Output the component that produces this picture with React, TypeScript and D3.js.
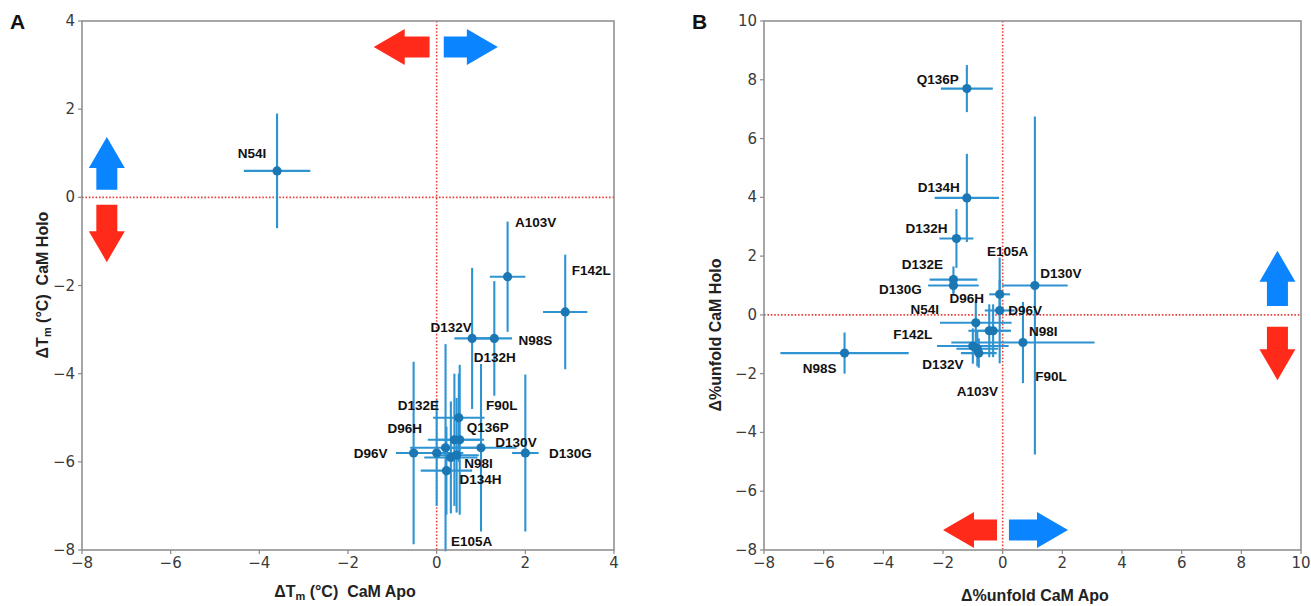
import React from 'react';
import * as d3 from 'd3';

// ---------- data ----------
const namesA = ['N54I', 'A103V', 'F142L', 'D132V', 'N98S', 'D132H', 'D132E', 'F90L', 'D96H', 'Q136P', 'D96V', 'D130V', 'D130G', 'N98I', 'D134H', 'E105A'];
const apoA = [-3.6, 1.6, 2.9, 0.8, 1.3, 0.32, 0.4, 0.5, 0.0, 0.52, -0.52, 1.0, 2.0, 0.45, 0.22, 0.2];
const holoA = [0.6, -1.8, -2.6, -3.2, -3.2, -5.9, -5.5, -5.0, -5.8, -5.5, -5.8, -5.68, -5.8, -5.85, -6.2, -5.68];
const apoErrA = [0.75, 0.4, 0.5, 0.4, 0.4, 0.6, 0.6, 0.58, 0.6, 0.55, 0.4, 0.8, 0.3, 0.5, 0.58, 0.8];
const holoErrA = [1.3, 1.25, 1.3, 1.6, 1.3, 1.27, 1.5, 1.0, 1.2, 1.7, 2.07, 1.9, 1.78, 1.3, 1.0, 2.35];

const namesB = ['Q136P', 'D134H', 'D132H', 'D132E', 'D130G', 'E105A', 'D130V', 'D96H', 'N54I', 'D96V', 'N98I', 'F142L', 'A103V', 'D132V', 'F90L', 'N98S'];
const apoB = [-1.2, -1.2, -1.55, -1.65, -1.65, -0.1, 1.08, -0.1, -0.9, -0.32, -0.45, -1.0, -0.85, -0.8, 0.68, -5.3];
const holoB = [7.7, 3.98, 2.6, 1.2, 1.0, 0.15, 1.0, 0.7, -0.27, -0.54, -0.54, -1.06, -1.15, -1.3, -0.94, -1.3];
const apoErrB = [0.87, 1.08, 0.57, 0.8, 0.85, 0.5, 1.1, 0.35, 1.2, 0.6, 0.7, 1.2, 0.7, 0.6, 2.4, 2.15];
const holoErrB = [0.8, 1.5, 1.0, 0.45, 0.35, 1.8, 5.75, 0.5, 0.77, 0.9, 0.9, 0.6, 0.6, 0.5, 1.38, 0.7];

const ticksA = [-8, -6, -4, -2, 0, 2, 4];
const ticksBx = [-8, -6, -4, -2, 0, 2, 4, 6, 8, 10];
const ticksBy = [-8, -6, -4, -2, 0, 2, 4, 6, 8, 10];

// ---------- layout (pixel label offsets, arrows in data coords) ----------
const labelOffA: Record<string, [number, number]> = {
  N54I: [-25, -17], A103V: [28, -54], F142L: [26, -41], D132V: [-21, -11], N98S: [41, 2],
  D132H: [44, -100], D132E: [-36, -34], F90L: [43, -12], D96H: [-32, -25], Q136P: [28, -12],
  D96V: [-43, 0], D130V: [35, -5], D130G: [45, 0], N98I: [22, 8], D134H: [34, 9], E105A: [26, 94],
};
const labelOffB: Record<string, [number, number]> = {
  Q136P: [-29, -9], D134H: [-28, -10], D132H: [-30, -10], D132E: [-31, -15], D130G: [-53, 4],
  E105A: [8, -59], D130V: [26, -12], D96H: [-33, 4], N54I: [-51, -13], D96V: [32, -20],
  N98I: [54, 1], F142L: [-60, -12], A103V: [0, 43], D132V: [-36, 11], F90L: [28, 34], N98S: [-25, 15],
};

type Arrow = { from: [number, number]; to: [number, number]; color: string };
const BLUE = '#0a84ff';
const RED = '#ff2a1a';
const arrowsA: Arrow[] = [
  { from: [-0.16, 3.41], to: [-1.42, 3.41], color: RED },
  { from: [0.16, 3.41], to: [1.38, 3.41], color: BLUE },
  { from: [-7.44, 0.17], to: [-7.44, 1.37], color: BLUE },
  { from: [-7.44, -0.17], to: [-7.44, -1.47], color: RED },
];
const arrowsB: Arrow[] = [
  { from: [9.21, 0.3], to: [9.21, 2.18], color: BLUE },
  { from: [9.21, -0.4], to: [9.21, -2.22], color: RED },
  { from: [-0.19, -7.32], to: [-2.0, -7.32], color: RED },
  { from: [0.21, -7.32], to: [2.19, -7.32], color: BLUE },
];

const LINE = '#2e93d1';
const DOT = '#1b77b3';
const AXIS = '#8a8a8a';
const TICKFONT = 'DejaVu Sans, sans-serif';
const BOLDFONT = 'Liberation Sans, Arial, sans-serif';

function arrowPath(x1: number, y1: number, x2: number, y2: number) {
  const L = Math.hypot(x2 - x1, y2 - y1);
  const bw = 21, hw = 36, hl = 31;
  const pts: [number, number][] = [
    [0, -bw / 2], [L - hl, -bw / 2], [L - hl, -hw / 2], [L, 0], [L - hl, hw / 2], [L - hl, bw / 2], [0, bw / 2],
  ];
  const a = Math.atan2(y2 - y1, x2 - x1);
  const c = Math.cos(a), s = Math.sin(a);
  return 'M' + pts.map(([u, v]) => `${x1 + u * c - v * s},${y1 + u * s + v * c}`).join('L') + 'Z';
}

type PanelProps = {
  frame: { l: number; r: number; t: number; b: number };
  xDom: [number, number]; yDom: [number, number];
  xTicks: number[]; yTicks: number[];
  names: string[]; xs: number[]; ys: number[]; xe: number[]; ye: number[];
  offs: Record<string, [number, number]>;
  arrows: Arrow[];
};

function Panel(p: PanelProps) {
  const { l, r, t, b } = p.frame;
  const x = d3.scaleLinear().domain(p.xDom).range([l, r]);
  const y = d3.scaleLinear().domain(p.yDom).range([b, t]);
  const fmt = (v: number) => (v < 0 ? '\u2212' + Math.abs(v) : String(v));
  return (
    <g>
      {p.arrows.map((a, i) => (
        <path key={'ar' + i} d={arrowPath(x(a.from[0]), y(a.from[1]), x(a.to[0]), y(a.to[1]))} fill={a.color} />
      ))}
      <line x1={x(0)} x2={x(0)} y1={t} y2={b} stroke="#e8453c" strokeWidth={1.6} strokeDasharray="1.6,1.8" />
      <line x1={l} x2={r} y1={y(0)} y2={y(0)} stroke="#e8453c" strokeWidth={1.6} strokeDasharray="1.6,1.8" />
      {p.names.map((n, i) => (
        <g key={'eb' + n}>
          <line x1={x(p.xs[i] - p.xe[i])} x2={x(p.xs[i] + p.xe[i])} y1={y(p.ys[i])} y2={y(p.ys[i])} stroke={LINE} strokeWidth={2.1} />
          <line x1={x(p.xs[i])} x2={x(p.xs[i])} y1={y(p.ys[i] - p.ye[i])} y2={y(p.ys[i] + p.ye[i])} stroke={LINE} strokeWidth={2.1} />
        </g>
      ))}
      {p.names.map((n, i) => (
        <circle key={'pt' + n} cx={x(p.xs[i])} cy={y(p.ys[i])} r={4.6} fill={DOT} />
      ))}
      {p.names.map((n, i) => (
        <text key={'lb' + n} x={x(p.xs[i]) + p.offs[n][0]} y={y(p.ys[i]) + p.offs[n][1]} textAnchor="middle"
          dominantBaseline="central" fontFamily={BOLDFONT} fontWeight="bold" fontSize={13.5} fill="#111">{n}</text>
      ))}
      <rect x={l} y={t} width={r - l} height={b - t} fill="none" stroke={AXIS} strokeWidth={1.5} />
      {p.xTicks.map((v) => (
        <g key={'xt' + v}>
          <line x1={x(v)} x2={x(v)} y1={b} y2={b + 4} stroke={AXIS} strokeWidth={1.2} />
          <text x={x(v)} y={b + 18} textAnchor="middle" fontFamily={TICKFONT} fontSize={15} fill="#3a3a3a">{fmt(v)}</text>
        </g>
      ))}
      {p.yTicks.map((v) => (
        <g key={'yt' + v}>
          <line x1={l - 4} x2={l} y1={y(v)} y2={y(v)} stroke={AXIS} strokeWidth={1.2} />
          <text x={l - 7} y={y(v)} textAnchor="end" dominantBaseline="central" fontFamily={TICKFONT} fontSize={15} fill="#3a3a3a">{fmt(v)}</text>
        </g>
      ))}
    </g>
  );
}

export default function App() {
  const labelStyle = { fontFamily: BOLDFONT, fontWeight: 'bold' as const, fontSize: 16, fill: '#222' };
  return (
    <svg width={1311} height={606} style={{ position: 'absolute', left: 0, top: 0, background: '#fff' }}>
      <rect width={1311} height={606} fill="#fff" />
      <Panel frame={{ l: 82, r: 614, t: 21, b: 550 }} xDom={[-8, 4]} yDom={[-8, 4]} xTicks={ticksA} yTicks={ticksA}
        names={namesA} xs={apoA} ys={holoA} xe={apoErrA} ye={holoErrA} offs={labelOffA} arrows={arrowsA} />
      <Panel frame={{ l: 764, r: 1301, t: 21, b: 550 }} xDom={[-8, 10]} yDom={[-8, 10]} xTicks={ticksBx} yTicks={ticksBy}
        names={namesB} xs={apoB} ys={holoB} xe={apoErrB} ye={holoErrB} offs={labelOffB} arrows={arrowsB} />
      <text x={10} y={29} fontFamily={BOLDFONT} fontWeight="bold" fontSize={21} fill="#111">A</text>
      <text x={692} y={29} fontFamily={BOLDFONT} fontWeight="bold" fontSize={21} fill="#111">B</text>
      <text x={345} y={597} textAnchor="middle" {...labelStyle}>
        ΔT<tspan fontSize={11} dy={3}>m</tspan><tspan dy={-3}>{'\u00a0(°C)\u00a0\u00a0CaM Apo'}</tspan>
      </text>
      <text transform="translate(48,285) rotate(-90)" textAnchor="middle" {...labelStyle}>
        ΔT<tspan fontSize={11} dy={3}>m</tspan><tspan dy={-3}>{'\u00a0(°C)\u00a0\u00a0CaM Holo'}</tspan>
      </text>
      <text x={1035} y={601} textAnchor="middle" {...labelStyle}>Δ%unfold CaM Apo</text>
      <text transform="translate(721,335) rotate(-90)" textAnchor="middle" {...labelStyle}>Δ%unfold CaM Holo</text>
    </svg>
  );
}
